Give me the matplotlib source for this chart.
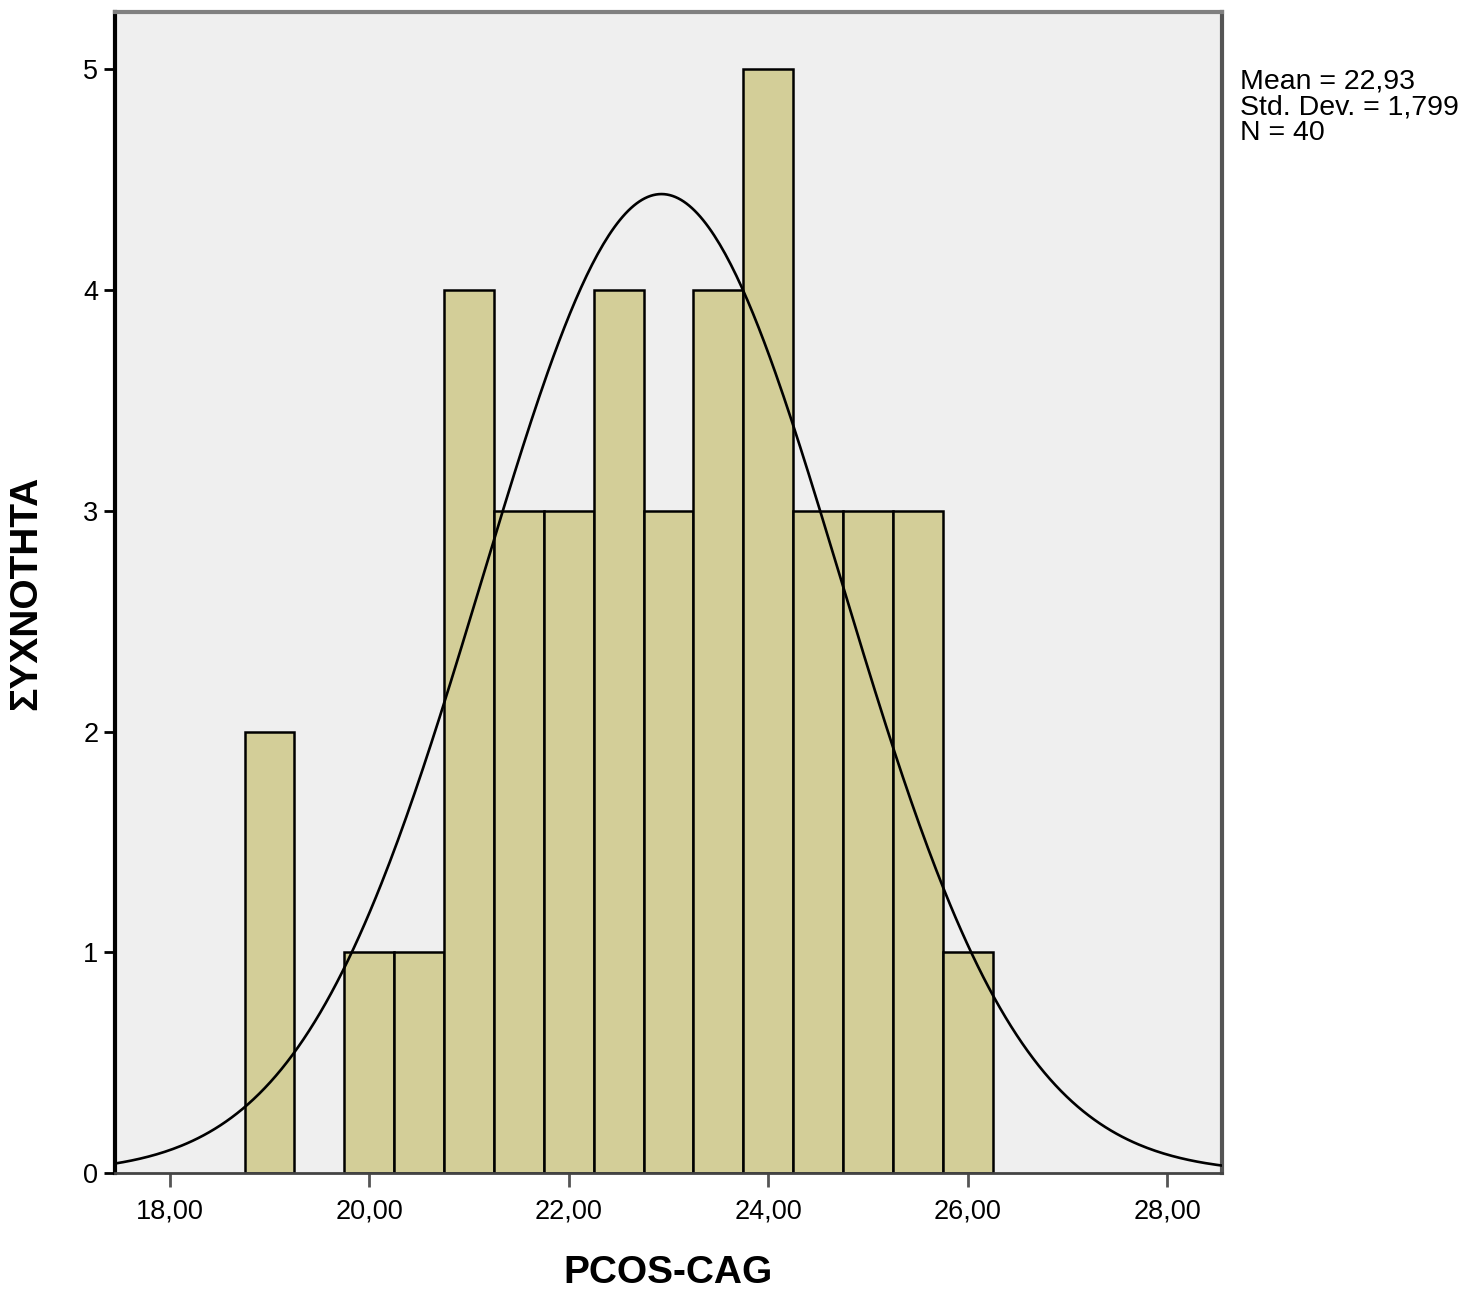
import numpy as np
from matplotlib import pyplot as plt

# histogram of PCOS-CAG values, bin width 0.5
bin_centers = [19.0, 20.0, 20.5, 21.0, 21.5, 22.0, 22.5, 23.0, 23.5, 24.0, 24.5, 25.0, 25.5, 26.0]
counts = [2, 1, 1, 4, 3, 3, 4, 3, 4, 5, 3, 3, 3, 1]
bin_width = 0.5

mean_val = 22.93
std_val = 1.799
n_val = 40

x_ticks = [18, 20, 22, 24, 26, 28]
x_ticklabels = ['18,00', '20,00', '22,00', '24,00', '26,00', '28,00']
y_ticks = [0, 1, 2, 3, 4, 5]

plt.rcParams['font.family'] = ['Liberation Sans', 'DejaVu Sans']

fig = plt.figure(figsize=(14.68, 12.91), dpi=100)
ax = fig.add_axes([0.0783, 0.0914, 0.7541, 0.8993])
ax.set_facecolor('#EFEFEF')

ax.bar(bin_centers, counts, width=bin_width, color='#D3CE98', edgecolor='black',
       linewidth=1.8, zorder=2)

# fitted normal curve scaled to counts
xs = np.linspace(17.45, 28.55, 400)
ys = n_val * bin_width * np.exp(-0.5 * ((xs - mean_val) / std_val) ** 2) / (std_val * np.sqrt(2 * np.pi))
ax.plot(xs, ys, color='black', linewidth=1.9, zorder=3)

ax.set_xlim(17.45, 28.55)
ax.set_ylim(0, 5.26)

ax.set_xticks(x_ticks)
ax.set_xticklabels(x_ticklabels)
ax.set_yticks(y_ticks)
ax.tick_params(axis='x', direction='out', length=10, width=2, color='#555555', labelsize=19.5, pad=8)
ax.tick_params(axis='y', direction='out', length=8, width=2, color='black', labelsize=19.5, pad=4)

ax.spines['left'].set_color('black')
ax.spines['left'].set_linewidth(3)
ax.spines['bottom'].set_color('#444444')
ax.spines['bottom'].set_linewidth(2)
ax.spines['top'].set_color('#808080')
ax.spines['top'].set_linewidth(3)
ax.spines['right'].set_color('#555555')
ax.spines['right'].set_linewidth(3)

ax.set_xlabel('PCOS-CAG', fontsize=28, fontweight='bold', labelpad=22)
ax.set_ylabel('ΣΥΧΝΟΤΗΤΑ', fontsize=28, fontweight='bold', labelpad=28)

fig.text(0.845, 0.947, f'Mean = 22,93\nStd. Dev. = 1,799\nN = {n_val}',
         fontsize=20.5, va='top', ha='left', linespacing=0.98)

fig.savefig('out.png', dpi=100)
plt.close()
